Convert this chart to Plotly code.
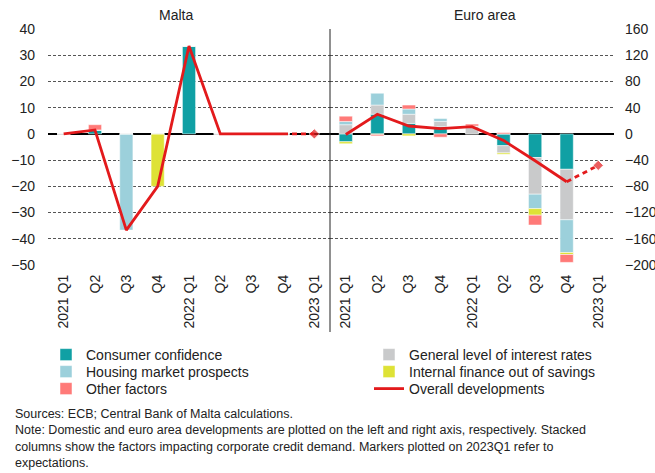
import plotly.graph_objects as go

# ---------------- data ----------------
tick_labels = ["2021 Q1", "Q2", "Q3", "Q4", "2022 Q1", "Q2", "Q3", "Q4", "2023 Q1"]
x_idx = list(range(len(tick_labels)))

factor_names = ["Consumer confidence", "General level of interest rates",
                "Housing market prospects", "Internal finance out of savings",
                "Other factors"]

# Malta (left axis)
malta_consumer = [0, 1.5, 0, 0, 33.5, 0, 0, 0, None]
malta_interest = [0, 0, 0, 0, 0, 0, 0, 0, None]
malta_housing = [0, 0, -36.7, 0, 0, 0, 0, 0, None]
malta_internal = [0, 0, 0, -20, 0, 0, 0, 0, None]
malta_other = [0, 2, 0, 0, 0, 0, 0, 0, None]
malta_overall = [0, 1.5, -36.7, -20, 33.5, 0, 0, 0, 0]

# Euro area (right axis)
ea_consumer = [-12, 30, 16, 11, 0, -18, -36, -54, None]
ea_interest = [14, 14, 14, 8, 12, -11, -56, -77, None]
ea_housing = [5, 18, 8, 5, 0, 0, -22, -50, None]
ea_internal = [-3, -1, -3, 0, 0, -2, -10, -3, None]
ea_other = [8, -2, 6, -5, 3, 2, -15, -12, None]
ea_overall = [-1, 30, 12, 8, 11, -10, -41, -73, -48]

malta_y_ticks = list(range(-50, 41, 10))
ea_y_ticks = list(range(-200, 161, 40))

# ---------------- style ----------------
colors = ["#10A0A4", "#C9CACB", "#9CD0DB", "#DEE236", "#FF7A78"]
line_red = "#E31A1C"
font_family = "Arial, Liberation Sans, sans-serif"
text_col = "#222222"
# each legend entry gets its own legend box so it can sit exactly where the reference has it
legend_of = ["legend", "legend4", "legend2", "legend5", "legend3"]

malta_series = [malta_consumer, malta_interest, malta_housing, malta_internal, malta_other]
ea_series = [ea_consumer, ea_interest, ea_housing, ea_internal, ea_other]

fig = go.Figure()

for i, name in enumerate(factor_names):
    fig.add_trace(go.Bar(
        x=x_idx, y=malta_series[i], name=name, marker_color=colors[i],
        marker_line=dict(color="white", width=0.5), width=0.42,
        xaxis="x", yaxis="y", legendgroup=name, showlegend=True,
        legend=legend_of[i]))
for i, name in enumerate(factor_names):
    fig.add_trace(go.Bar(
        x=x_idx, y=ea_series[i], name=name, marker_color=colors[i],
        marker_line=dict(color="white", width=0.5), width=0.42,
        xaxis="x2", yaxis="y2", legendgroup=name, showlegend=False,
        legend=legend_of[i]))

# overall developments lines (solid realised, dashed expectations)
for xa, ya, series, show in [("x", "y", malta_overall, True), ("x2", "y2", ea_overall, False)]:
    fig.add_trace(go.Scatter(
        x=x_idx[:8], y=series[:8], mode="lines", name="Overall developments",
        line=dict(color=line_red, width=2.8), xaxis=xa, yaxis=ya,
        legendgroup="overall", showlegend=show, legend="legend6"))
    fig.add_trace(go.Scatter(
        x=x_idx[7:], y=series[7:], mode="lines+markers", name="Overall developments",
        line=dict(color=line_red, width=2.8, dash="5px,4px"),
        marker=dict(symbol="diamond", size=[0, 8], color=line_red),
        xaxis=xa, yaxis=ya, legendgroup="overall", showlegend=False, legend="legend6"))

W, H = 655, 473
ml, mr, mt, mb = 48, 41, 29, 208
pw = W - ml - mr
ph = H - mt - mb
split = (330 - ml) / pw

def px_x(p):
    return (p - ml) / pw

def px_y(p):
    return (H - mb - p) / ph

grid = dict(showgrid=True, gridcolor="#555555", gridwidth=1, griddash="3px,2px",
            zeroline=True, zerolinecolor="#000000", zerolinewidth=1.5,
            showline=False, ticks="", tickfont=dict(size=14, color=text_col))
xcommon = dict(tickmode="array", tickvals=x_idx, ticktext=tick_labels, tickangle=-90,
               range=[-0.5, 8.5], showgrid=False, zeroline=False, showline=False,
               ticks="", tickfont=dict(size=14, color=text_col), ticklabelstandoff=6)

fig.update_layout(
    width=W, height=H,
    margin=dict(l=ml, r=mr, t=mt, b=mb, autoexpand=False),
    paper_bgcolor="white", plot_bgcolor="white",
    font=dict(family=font_family, color=text_col),
    barmode="relative",
    xaxis=dict(domain=[0, split], anchor="y", **xcommon),
    xaxis2=dict(domain=[split, 1], anchor="y2", **xcommon),
    yaxis=dict(domain=[0, 1], anchor="x", range=[-50, 40], tickmode="array",
               tickvals=malta_y_ticks, side="left", ticklabelstandoff=12,
               automargin=False, **grid),
    yaxis2=dict(domain=[0, 1], anchor="x2", range=[-200, 160], tickmode="array",
                tickvals=ea_y_ticks, side="right", ticklabelstandoff=10,
                automargin=False, **grid),
    showlegend=True,
)

leg_common = dict(orientation="v", xanchor="left", yanchor="middle",
                  font=dict(size=14, color=text_col), bgcolor="rgba(0,0,0,0)",
                  itemclick=False, itemdoubleclick=False, tracegroupgap=0)
left_x, right_x = px_x(46), px_x(369)
row_y = [px_y(355), px_y(372), px_y(389)]
fig.update_layout(
    legend=dict(x=left_x, y=row_y[0], **leg_common),
    legend2=dict(x=left_x, y=row_y[1], **leg_common),
    legend3=dict(x=left_x, y=row_y[2], **leg_common),
    legend4=dict(x=right_x, y=row_y[0], **leg_common),
    legend5=dict(x=right_x, y=row_y[1], **leg_common),
    legend6=dict(x=right_x, y=row_y[2], **leg_common),
)

fig.add_shape(type="line", xref="paper", yref="paper", x0=split, x1=split,
              y0=px_y(332), y1=1, line=dict(color="#222222", width=1))

fig.add_annotation(text="Malta", xref="paper", yref="paper", x=px_x(176), y=px_y(15),
                   xanchor="center", yanchor="middle", showarrow=False,
                   font=dict(size=14, color=text_col))
fig.add_annotation(text="Euro area", xref="paper", yref="paper", x=px_x(485),
                   y=px_y(15), xanchor="center", yanchor="middle", showarrow=False,
                   font=dict(size=14, color=text_col))

note = ("Sources: ECB; Central Bank of Malta calculations.<br>"
        "Note: Domestic and euro area developments are plotted on the left and right axis, respectively. Stacked<br>"
        "columns show the factors impacting corporate credit demand. Markers plotted on 2023Q1 refer to<br>"
        "expectations.")
fig.add_annotation(text=note, xref="paper", yref="paper", x=px_x(13), y=px_y(405),
                   xanchor="left", yanchor="top", align="left", showarrow=False,
                   font=dict(size=12.5, color=text_col))

fig.write_html("out.html", config={"displayModeBar": False},
               post_script="document.body.style.margin='0';")
